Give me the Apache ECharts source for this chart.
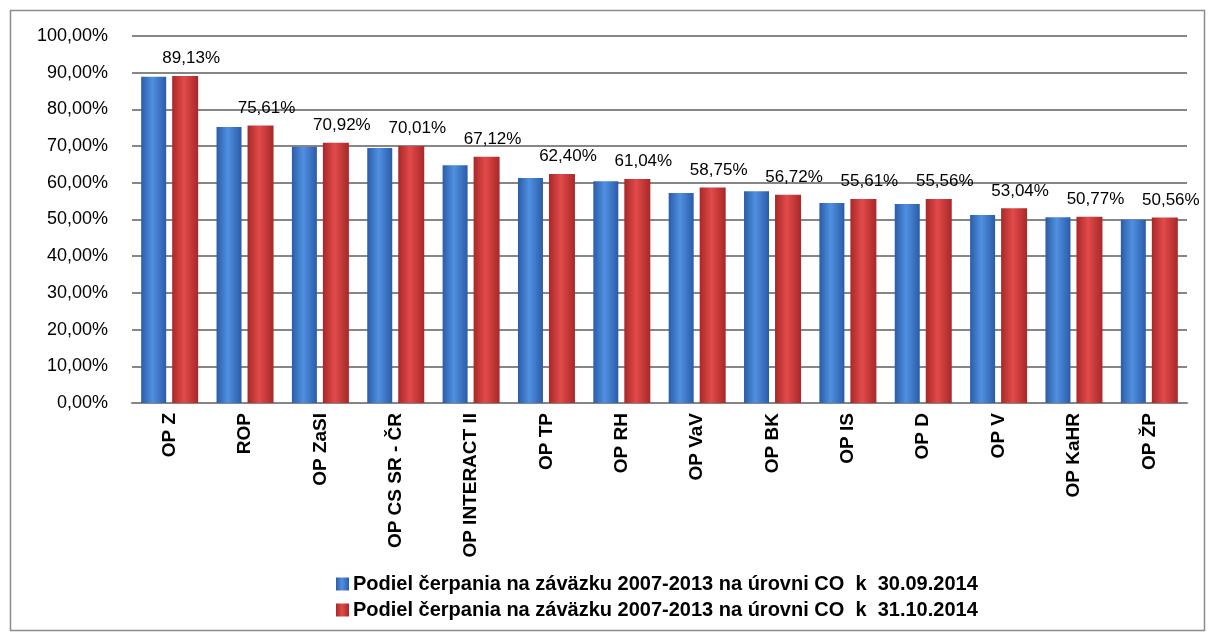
<!DOCTYPE html>
<html><head><meta charset="utf-8">
<script src="https://cdn.jsdelivr.net/npm/echarts@6/dist/echarts.min.js"></script>
<style>html,body{margin:0;padding:0;background:#fff}#c{width:1215px;height:638px}</style>
</head><body><div id="c"></div>
<script>
const categories = ['OP Z','ROP','OP ZaSI','OP CS SR - ČR','OP INTERACT II','OP TP','OP RH','OP VaV','OP BK','OP IS','OP D','OP V','OP KaHR','OP ŽP'];
const seriesSep = [88.9, 75.2, 69.8, 69.5, 64.8, 61.3, 60.4, 57.2, 57.7, 54.5, 54.2, 51.2, 50.6, 49.9];
const seriesOct = [89.13, 75.61, 70.92, 70.01, 67.12, 62.40, 61.04, 58.75, 56.72, 55.61, 55.56, 53.04, 50.77, 50.56];
const seriesNames = ['Podiel čerpania na záväzku 2007-2013 na úrovni CO  k  30.09.2014','Podiel čerpania na záväzku 2007-2013 na úrovni CO  k  31.10.2014'];

const fmt = v => v.toFixed(2).replace('.', ',') + '%';
function grad(edge, mid){
  return new echarts.graphic.LinearGradient(0,0,1,0,[
    {offset:0,color:edge},{offset:0.45,color:mid},{offset:1,color:edge}]);
}
const chart = echarts.init(document.getElementById('c'));
chart.setOption({
  animation:false,
  textStyle:{fontFamily:'Liberation Sans, Arial, sans-serif'},
  graphic:[{type:'rect',shape:{x:10.5,y:10.5,width:1194,height:620},style:{fill:'none',stroke:'#8c8c8c',lineWidth:1.5},silent:true}],
  grid:{left:132,right:28,top:36,bottom:235},
  legend:{
    orient:'vertical',left:331,top:569,itemGap:6,itemWidth:13,itemHeight:13,
    icon:'rect',
    textStyle:{fontSize:20,fontWeight:'bold',color:'#000',padding:[0,0,0,-1],
      fontFamily:'Liberation Sans, Arial, sans-serif'},
    data:seriesNames
  },
  xAxis:{
    type:'category',data:categories,
    axisLine:{lineStyle:{color:'#868686',width:2}},
    axisTick:{show:false},
    axisLabel:{rotate:90,fontSize:19,fontWeight:'bold',color:'#000',margin:10,interval:0}
  },
  yAxis:{
    type:'value',min:0,max:100,interval:10,
    axisLine:{show:false},axisTick:{show:false},
    splitLine:{lineStyle:{color:'#868686',width:2}},
    axisLabel:{fontSize:18,color:'#000',margin:24,formatter:v=>v.toFixed(2).replace('.',',')+'%'}
  },
  series:[
    {name:seriesNames[0],type:'bar',data:seriesSep,barWidth:25,barGap:'24%',
     itemStyle:{color:grad('#2a5ca8','#5090e0')}},
    {name:seriesNames[1],type:'bar',data:seriesOct,barWidth:26,
     itemStyle:{color:grad('#a82828','#e24a4a')},
     label:{show:true,position:'top',distance:9,offset:[6,0],fontSize:17,color:'#000',formatter:p=>fmt(p.value)}}
  ]
});
</script></body></html>
